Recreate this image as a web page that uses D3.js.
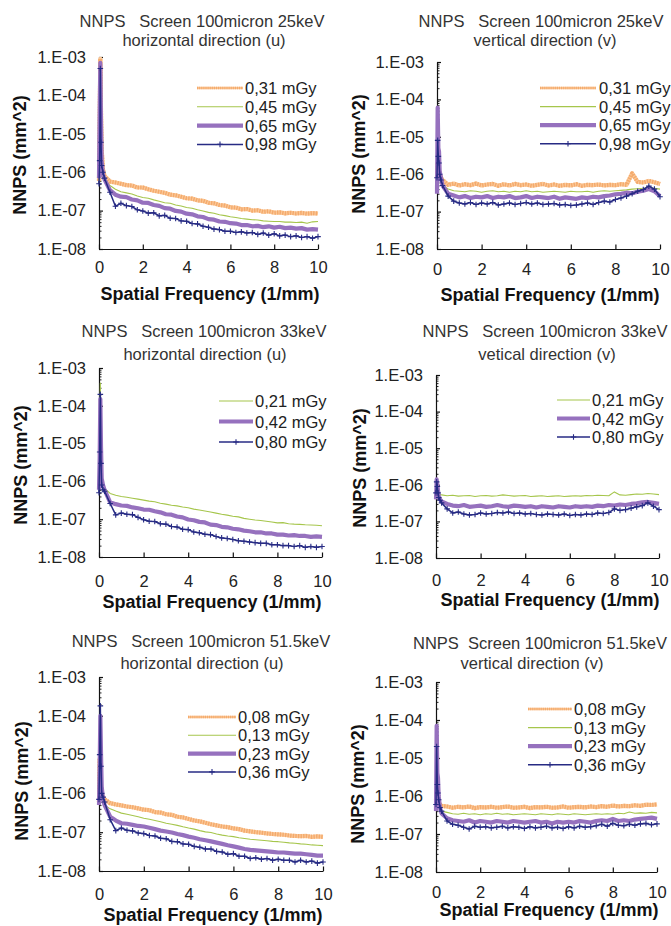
<!DOCTYPE html>
<html>
<head>
<meta charset="utf-8">
<script src="https://cdn.jsdelivr.net/npm/d3@7"></script>
<style>
  body { margin: 0; background: #fff; }
  svg text { font-family: "Liberation Sans", Arial, sans-serif; }
</style>
</head>
<body>
<svg id="chart" width="671" height="926"></svg>
<script>
// Spatial frequency samples (1/mm), shared by every NNPS series
const frequency = [0, 0.03, 0.06, 0.09, 0.12, 0.18, 0.25,
  0.5, 0.75, 1, 1.25, 1.5, 1.75, 2, 2.25, 2.5, 2.75, 3, 3.25, 3.5, 3.75, 4, 4.25, 4.5, 4.75,
  5, 5.25, 5.5, 5.75, 6, 6.25, 6.5, 6.75, 7, 7.25, 7.5, 7.75, 8, 8.25, 8.5, 8.75, 9, 9.25, 9.5, 9.75, 10];

// All NNPS arrays below are in units of 1e-7 mm^2
const UNIT = 1e-7;

// 25 keV, horizontal direction (u)
const u25_031 = [6, 150, 9000, 400, 40, 12, 8, 5.7, 5.4, 5.0, 4.6, 4.5, 4.0, 4.0, 3.6, 3.3, 3.1, 2.9, 2.6, 2.5, 2.3, 2.1, 2.05, 1.85, 1.8, 1.6, 1.55, 1.4, 1.35, 1.22, 1.2, 1.08, 1.1, 1.0, 1.02, 0.93, 0.96, 0.88, 0.9, 0.85, 0.88, 0.84, 0.87, 0.83, 0.86, 0.84];
const u25_045 = [5, 12, 30, 14, 9, 7, 6, 4.5, 3.6, 3.1, 2.9, 2.7, 2.4, 2.2, 2.1, 1.9, 1.75, 1.6, 1.55, 1.4, 1.32, 1.2, 1.15, 1.05, 0.98, 0.9, 0.85, 0.78, 0.74, 0.69, 0.66, 0.62, 0.6, 0.58, 0.57, 0.54, 0.53, 0.52, 0.52, 0.5, 0.5, 0.49, 0.5, 0.47, 0.51, 0.52];
const u25_065 = [7, 300, 7000, 200, 20, 9, 6.5, 3.4, 2.6, 2.3, 2.25, 1.95, 1.85, 1.6, 1.58, 1.4, 1.33, 1.16, 1.12, 0.98, 0.94, 0.83, 0.8, 0.71, 0.68, 0.6, 0.58, 0.52, 0.51, 0.47, 0.46, 0.42, 0.42, 0.39, 0.4, 0.37, 0.39, 0.36, 0.38, 0.35, 0.36, 0.34, 0.35, 0.32, 0.33, 0.32];
const u25_098 = [5, 20, 5000, 60, 15, 10, 7, 3.0, 1.3, 1.55, 1.35, 1.28, 1.05, 0.98, 0.86, 0.88, 0.73, 0.75, 0.63, 0.62, 0.54, 0.53, 0.46, 0.45, 0.39, 0.37, 0.33, 0.32, 0.29, 0.29, 0.27, 0.28, 0.26, 0.27, 0.24, 0.26, 0.23, 0.25, 0.22, 0.23, 0.21, 0.22, 0.2, 0.21, 0.19, 0.21];

// 25 keV, vertical direction (v)
const v25_031 = [8, 20, 15, 12, 10, 8, 7, 5.2, 5.6, 5.0, 5.4, 5.1, 5.6, 5.0, 5.3, 5.5, 4.9, 5.4, 5.0, 5.5, 5.1, 5.3, 4.9, 5.2, 5.5, 5.0, 5.3, 4.9, 5.2, 5.0, 5.4, 4.9, 5.2, 5.1, 5.3, 5.0, 5.2, 5.1, 5.4, 5.2, 10.5, 6.2, 6.0, 6.6, 6.1, 5.5];
const v25_045 = [6, 25, 15, 10, 8, 6, 5, 4.0, 3.6, 3.5, 3.4, 3.6, 3.5, 3.3, 3.5, 3.6, 3.4, 3.5, 3.3, 3.5, 3.4, 3.6, 3.4, 3.5, 3.3, 3.4, 3.5, 3.4, 3.3, 3.5, 3.4, 3.4, 3.5, 3.3, 3.5, 3.6, 3.5, 3.6, 3.7, 3.8, 4.0, 4.1, 4.2, 4.4, 4.2, 4.0];
const v25_065 = [3, 600, 50, 40, 12, 8, 5, 3.0, 2.7, 2.4, 2.6, 2.3, 2.5, 2.4, 2.6, 2.3, 2.5, 2.4, 2.6, 2.3, 2.4, 2.6, 2.3, 2.5, 2.4, 2.3, 2.5, 2.2, 2.4, 2.3, 2.2, 2.4, 2.3, 2.5, 2.4, 2.6, 2.7, 2.9, 3.0, 3.2, 3.1, 3.4, 3.6, 4.0, 3.5, 2.6];
const v25_098 = [8, 80, 30, 20, 10, 7, 5, 2.6, 1.9, 1.7, 1.6, 1.75, 1.55, 1.7, 1.6, 1.75, 1.5, 1.6, 1.7, 1.55, 1.65, 1.75, 1.6, 1.7, 1.55, 1.6, 1.65, 1.5, 1.55, 1.45, 1.5, 1.6, 1.7, 1.55, 1.75, 1.9, 1.8, 2.1, 2.3, 2.6, 3.0, 3.5, 3.9, 4.8, 4.0, 2.5];

// 33 keV, horizontal direction (u)
const u33_021 = [7, 200, 4000, 50, 12, 8, 6.5, 4.8, 4.3, 4.0, 3.8, 3.6, 3.4, 3.2, 3.0, 2.9, 2.65, 2.5, 2.35, 2.25, 2.1, 2.0, 1.85, 1.75, 1.65, 1.55, 1.45, 1.35, 1.28, 1.2, 1.15, 1.05, 1.0, 0.95, 0.92, 0.88, 0.84, 0.8, 0.81, 0.76, 0.74, 0.73, 0.71, 0.7, 0.69, 0.67];
const u33_042 = [6, 40, 1500, 80, 12, 8, 6, 2.8, 2.5, 2.3, 2.25, 2.05, 1.95, 1.8, 1.78, 1.62, 1.52, 1.35, 1.32, 1.18, 1.12, 0.98, 0.94, 0.85, 0.82, 0.72, 0.7, 0.63, 0.61, 0.56, 0.54, 0.5, 0.48, 0.45, 0.45, 0.42, 0.42, 0.39, 0.39, 0.37, 0.38, 0.36, 0.36, 0.34, 0.35, 0.34];
const u33_080 = [5, 60, 2000, 30, 8, 6, 5.5, 2.6, 1.3, 1.45, 1.35, 1.32, 1.12, 0.97, 0.88, 0.87, 0.76, 0.74, 0.64, 0.62, 0.54, 0.53, 0.46, 0.44, 0.4, 0.39, 0.35, 0.32, 0.31, 0.29, 0.27, 0.26, 0.25, 0.24, 0.23, 0.23, 0.21, 0.21, 0.2, 0.2, 0.19, 0.2, 0.18, 0.19, 0.18, 0.19];

// 33 keV, vertical direction (v)
const v33_021 = [10, 12, 9, 7, 6, 5.5, 5.3, 5.0, 5.2, 4.9, 5.0, 5.1, 4.8, 5.0, 5.1, 4.9, 5.0, 5.3, 5.1, 4.9, 5.0, 5.1, 4.8, 4.9, 5.0, 4.8, 4.9, 5.0, 4.8, 4.9, 5.0, 4.9, 5.1, 5.0, 5.2, 5.1, 5.0, 6.4, 5.3, 5.2, 5.4, 5.6, 5.5, 5.8, 5.6, 5.4];
const v33_042 = [4, 14, 10, 7, 5, 4, 3.5, 3.0, 2.7, 2.6, 2.8, 2.5, 2.6, 2.7, 2.5, 2.6, 2.8, 2.6, 2.5, 2.7, 2.6, 2.5, 2.6, 2.4, 2.6, 2.5, 2.4, 2.6, 2.5, 2.4, 2.6, 2.5, 2.6, 2.5, 2.7, 2.6, 2.8, 2.7, 2.9, 2.8, 3.0, 3.1, 3.3, 3.4, 3.2, 3.0];
const v33_080 = [6, 12, 9, 6, 4.5, 3.8, 3.2, 2.2, 1.7, 1.8, 1.6, 1.5, 1.55, 1.7, 1.6, 1.65, 1.75, 1.7, 1.8, 1.65, 1.7, 1.6, 1.65, 1.55, 1.5, 1.6, 1.55, 1.5, 1.6, 1.45, 1.55, 1.5, 1.6, 1.55, 1.7, 1.65, 1.75, 2.2, 2.0, 2.1, 2.3, 2.5, 2.7, 3.2, 2.6, 2.1];

// 51.5 keV, horizontal direction (u)
const u51_008 = [6, 80, 30, 15, 10, 8, 7, 5.6, 5.2, 4.9, 4.6, 4.4, 4.1, 3.8, 3.7, 3.3, 3.2, 2.9, 2.8, 2.5, 2.4, 2.2, 2.0, 1.9, 1.75, 1.6, 1.5, 1.4, 1.35, 1.25, 1.2, 1.1, 1.05, 1.0, 0.97, 0.93, 0.9, 0.88, 0.86, 0.82, 0.8, 0.79, 0.8, 0.76, 0.78, 0.76];
const u51_013 = [6, 15, 10, 9, 8, 6, 5, 4.0, 3.5, 3.1, 2.9, 2.7, 2.5, 2.3, 2.15, 2.0, 1.85, 1.7, 1.6, 1.5, 1.38, 1.28, 1.2, 1.1, 1.02, 0.98, 0.9, 0.84, 0.8, 0.77, 0.72, 0.69, 0.66, 0.64, 0.62, 0.6, 0.58, 0.57, 0.55, 0.53, 0.52, 0.5, 0.49, 0.47, 0.46, 0.45];
const u51_023 = [5, 50, 1000, 100, 15, 7, 5, 2.5, 2.0, 1.7, 1.65, 1.55, 1.45, 1.4, 1.3, 1.2, 1.1, 1.04, 0.98, 0.9, 0.84, 0.77, 0.72, 0.66, 0.62, 0.58, 0.54, 0.5, 0.46, 0.43, 0.4, 0.37, 0.35, 0.34, 0.33, 0.32, 0.31, 0.3, 0.3, 0.29, 0.28, 0.28, 0.27, 0.26, 0.25, 0.25];
const u51_036 = [7, 100, 1800, 50, 10, 8, 6, 2.1, 1.1, 1.28, 1.12, 1.08, 0.95, 0.92, 0.82, 0.8, 0.7, 0.68, 0.58, 0.57, 0.5, 0.49, 0.43, 0.41, 0.37, 0.37, 0.32, 0.31, 0.27, 0.28, 0.24, 0.24, 0.21, 0.22, 0.2, 0.21, 0.19, 0.2, 0.19, 0.19, 0.17, 0.19, 0.17, 0.18, 0.16, 0.17];

// 51.5 keV, vertical direction (v)
const v51_008 = [8, 12, 10, 8, 7, 6, 5.5, 5.3, 4.9, 5.2, 5.0, 5.3, 4.8, 5.1, 5.0, 5.2, 4.9, 5.1, 5.3, 4.9, 5.0, 5.2, 4.8, 5.1, 5.0, 5.2, 4.9, 5.0, 5.3, 4.9, 5.1, 5.2, 5.0, 5.3, 5.1, 5.4, 5.2, 5.6, 5.3, 5.5, 5.4, 5.7, 5.5, 5.9, 5.8, 6.0];
const v51_013 = [5, 15, 10, 7, 6, 4.5, 4, 3.7, 3.4, 3.3, 3.5, 3.3, 3.4, 3.2, 3.4, 3.3, 3.5, 3.3, 3.4, 3.2, 3.3, 3.4, 3.3, 3.2, 3.4, 3.3, 3.2, 3.4, 3.3, 3.2, 3.4, 3.3, 3.2, 3.3, 3.4, 3.3, 3.4, 3.3, 3.5, 3.4, 3.8, 3.5, 3.6, 3.5, 3.7, 3.6];
const v51_023 = [4, 700, 40, 30, 10, 5, 3.5, 2.6, 2.3, 2.2, 2.1, 2.3, 2.0, 2.2, 2.1, 2.0, 2.2, 2.1, 2.0, 2.2, 2.1, 2.0, 2.1, 2.2, 2.0, 2.1, 1.9, 2.1, 2.0, 2.1, 2.0, 2.2, 2.1, 2.0, 2.2, 2.3, 2.2, 2.5, 2.2, 2.3, 2.2, 2.4, 2.5, 2.6, 2.7, 2.5];
const v51_036 = [6, 200, 20, 12, 8, 5, 4, 2.2, 1.8, 1.7, 1.5, 1.35, 1.6, 1.5, 1.55, 1.45, 1.5, 1.6, 1.45, 1.55, 1.5, 1.4, 1.55, 1.45, 1.5, 1.6, 1.45, 1.5, 1.4, 1.55, 1.45, 1.6, 1.5, 1.55, 1.65, 1.8, 1.6, 1.9, 1.7, 1.65, 1.8, 1.7, 1.85, 1.9, 1.75, 1.85];

// Legend labels (dose)
const doses25 = ["0,31 mGy", "0,45 mGy", "0,65 mGy", "0,98 mGy"];
const doses33 = ["0,21 mGy", "0,42 mGy", "0,80 mGy"];
const doses51 = ["0,08 mGy", "0,13 mGy", "0,23 mGy", "0,36 mGy"];

// Axis ticks
const yDecades = [1e-3, 1e-4, 1e-5, 1e-6, 1e-7, 1e-8];
const yTickLabels = ["1.E-03", "1.E-04", "1.E-05", "1.E-06", "1.E-07", "1.E-08"];
const xTicks = [0, 2, 4, 6, 8, 10];
const xTickLabels = ["0", "2", "4", "6", "8", "10"];

const titles = [
  "NNPS   Screen 100micron 25keV", "NNPS   Screen 100micron 25keV",
  "NNPS   Screen 100micron 33keV", "NNPS   Screen 100micron 33keV",
  "NNPS   Screen 100micron 51.5keV", "NNPS  Screen 100micron 51.5keV"
];
const subtitles = [
  "horizontal direction (u)", "vertical direction (v)",
  "horizontal direction (u)", "vetical direction (v)",
  "horizontal direction (u)", "vertical direction (v)"
];
const xTitle = "Spatial Frequency (1/mm)";
const yTitle = "NNPS (mm^2)";

// Line styles
const STYLES = {
  orange: { stroke: "#f4aa6c", under: "#fbc898", width: 4.2 },
  green:  { stroke: "#a6c64c", width: 1.1 },
  purple: { stroke: "#9671be", width: 4.2 },
  navy:   { stroke: "#272b84", width: 1.5 }
};

const panels = [
  { series: [u25_031, u25_045, u25_065, u25_098], labels: doses25, styles: ["orange", "green", "purple", "navy"] },
  { series: [v25_031, v25_045, v25_065, v25_098], labels: doses25, styles: ["orange", "green", "purple", "navy"] },
  { series: [u33_021, u33_042, u33_080], labels: doses33, styles: ["green", "purple", "navy"] },
  { series: [v33_021, v33_042, v33_080], labels: doses33, styles: ["green", "purple", "navy"] },
  { series: [u51_008, u51_013, u51_023, u51_036], labels: doses51, styles: ["orange", "green", "purple", "navy"] },
  { series: [v51_008, v51_013, v51_023, v51_036], labels: doses51, styles: ["orange", "green", "purple", "navy"] }
];

// Page geometry of each panel
const layout = [
  { x0: 99,  x1: 318, yTop: 57,  yBot: 249, xLab: 273, xt: [210, 300], yt: [20, 155],  t1: [202, 27],  t2: [204, 46],  lg: [197, 243, 245, 88, 18.8] },
  { x0: 437, x1: 660, yTop: 62,  yBot: 249, xLab: 275, xt: [550, 301], yt: [359, 154], t1: [541, 27],  t2: [545, 46],  lg: [540, 596, 599, 88, 18.6] },
  { x0: 99,  x1: 322, yTop: 368, yBot: 557, xLab: 587, xt: [212, 608], yt: [21, 465],  t1: [204, 337], t2: [205, 360], lg: [219, 253, 255, 401, 20.5] },
  { x0: 436, x1: 659, yTop: 375, yBot: 558, xLab: 586, xt: [550, 606], yt: [360, 468], t1: [545, 337], t2: [547, 360], lg: [557, 590, 592, 400, 18.5] },
  { x0: 99,  x1: 323, yTop: 677, yBot: 871, xLab: 900, xt: [213, 921], yt: [22, 781],  t1: [201, 647], t2: [202, 669], lg: [188, 236, 238, 717, 18.3] },
  { x0: 436, x1: 657, yTop: 682, yBot: 872, xLab: 898, xt: [549, 916], yt: [358, 784], t1: [540, 649], t2: [532, 669], lg: [528, 572, 574, 709, 18.6] }
];

const svg = d3.select("#chart");
const FONT = "Liberation Sans, Arial, sans-serif";
const minorTicks = [];
[1e-8, 1e-7, 1e-6, 1e-5, 1e-4].forEach(d => { for (let k = 2; k <= 9; k++) minorTicks.push(k * d); });

function strokeSeries(sel, style) {
  const s = STYLES[style];
  return sel.attr("fill", "none").attr("stroke", s.stroke).attr("stroke-width", s.width)
    .attr("stroke-linejoin", "round").attr("stroke-linecap", "butt");
}

function plusMarker(g, cx, cy, color) {
  g.append("path").attr("d", `M${cx - 2.8},${cy}H${cx + 2.8}M${cx},${cy - 2.8}V${cy + 2.8}`)
    .attr("stroke", color).attr("stroke-width", 1.1).attr("fill", "none");
}

function drawPanel(p, L, idx) {
  const g = svg.append("g").attr("class", "panel");
  const x = d3.scaleLinear().domain([0, 10]).range([L.x0, L.x1]);
  const y = d3.scaleLog().domain([1e-8, 1e-3]).range([L.yBot, L.yTop]);

  // Minor y ticks (inside)
  g.append("g").attr("transform", `translate(${L.x0},0)`)
    .call(d3.axisLeft(y).tickValues(minorTicks).tickSize(-2.5).tickFormat(""))
    .call(a => a.select(".domain").remove())
    .selectAll("line").attr("stroke", "#222");

  // Major y axis
  const ya = g.append("g").attr("transform", `translate(${L.x0},0)`)
    .call(d3.axisLeft(y).tickValues(yDecades)
      .tickFormat(d => yTickLabels[yDecades.indexOf(d)])
      .tickSizeInner(-4).tickSizeOuter(0).tickPadding(13));
  ya.attr("font-family", FONT).attr("font-size", 16.5);
  ya.selectAll("text").attr("fill", "#222");
  ya.selectAll("line, path").attr("stroke", "#111").attr("stroke-width", 1.2);

  // x axis
  const xa = g.append("g").attr("transform", `translate(0,${L.yBot})`)
    .call(d3.axisBottom(x).tickValues(xTicks)
      .tickFormat(d => xTickLabels[xTicks.indexOf(d)])
      .tickSizeInner(-4.5).tickSizeOuter(0));
  xa.attr("font-family", FONT).attr("font-size", 16.5);
  xa.selectAll("text").attr("fill", "#222").attr("dy", null).attr("y", L.xLab - L.yBot);
  xa.selectAll("line, path").attr("stroke", "#111").attr("stroke-width", 1.2);

  // Series
  const line = d3.line().x(d => x(d[0])).y(d => y(d[1] * UNIT));
  p.series.forEach((vals, si) => {
    const style = p.styles[si];
    const pts = d3.zip(frequency, vals);
    if (style === "orange") {
      strokeSeries(g.append("path").datum(pts).attr("d", line), "orange").attr("stroke", STYLES.orange.under);
      strokeSeries(g.append("path").datum(pts).attr("d", line), "orange").attr("stroke-dasharray", "1.4 1.2");
    } else {
      strokeSeries(g.append("path").datum(pts).attr("d", line), style);
    }
    if (style === "navy") {
      const mg = g.append("g");
      pts.forEach(d => plusMarker(mg, x(d[0]), y(d[1] * UNIT), STYLES.navy.stroke));
    }
  });

  // Legend
  const [lx0, lx1, tx, row0, step] = L.lg;
  p.labels.forEach((lab, si) => {
    const style = p.styles[si];
    const ly = row0 + si * step;
    if (style === "orange") {
      g.append("line").attr("x1", lx0).attr("x2", lx1).attr("y1", ly).attr("y2", ly)
        .attr("stroke", STYLES.orange.under).attr("stroke-width", 2.6);
    }
    const seg = g.append("line").attr("x1", lx0).attr("x2", lx1).attr("y1", ly).attr("y2", ly);
    strokeSeries(seg, style);
    if (style === "orange") {
      seg.attr("stroke-width", 2.6).attr("stroke-dasharray", "1.2 0.9");
    }
    if (style === "navy") plusMarker(g, (lx0 + lx1) / 2, ly, STYLES.navy.stroke);
    g.append("text").attr("x", tx).attr("y", ly + 6)
      .attr("font-size", 16.5).attr("fill", "#222").text(lab);
  });

  // Titles
  g.append("text").attr("x", L.t1[0]).attr("y", L.t1[1]).attr("text-anchor", "middle")
    .attr("font-size", 16.5).attr("fill", "#333").style("white-space", "pre").text(titles[idx]);
  g.append("text").attr("x", L.t2[0]).attr("y", L.t2[1]).attr("text-anchor", "middle")
    .attr("font-size", 16.5).attr("fill", "#333").text(subtitles[idx]);

  // Axis titles
  g.append("text").attr("x", L.xt[0]).attr("y", L.xt[1]).attr("text-anchor", "middle")
    .attr("font-size", 18).attr("font-weight", "bold").attr("fill", "#111").text(xTitle);
  g.append("text").attr("transform", `translate(${L.yt[0] + 6},${L.yt[1]}) rotate(-90)`)
    .attr("text-anchor", "middle").attr("font-size", 18).attr("font-weight", "bold")
    .attr("fill", "#111").text(yTitle);
}

panels.forEach((p, i) => drawPanel(p, layout[i], i));
</script>
</body>
</html>
